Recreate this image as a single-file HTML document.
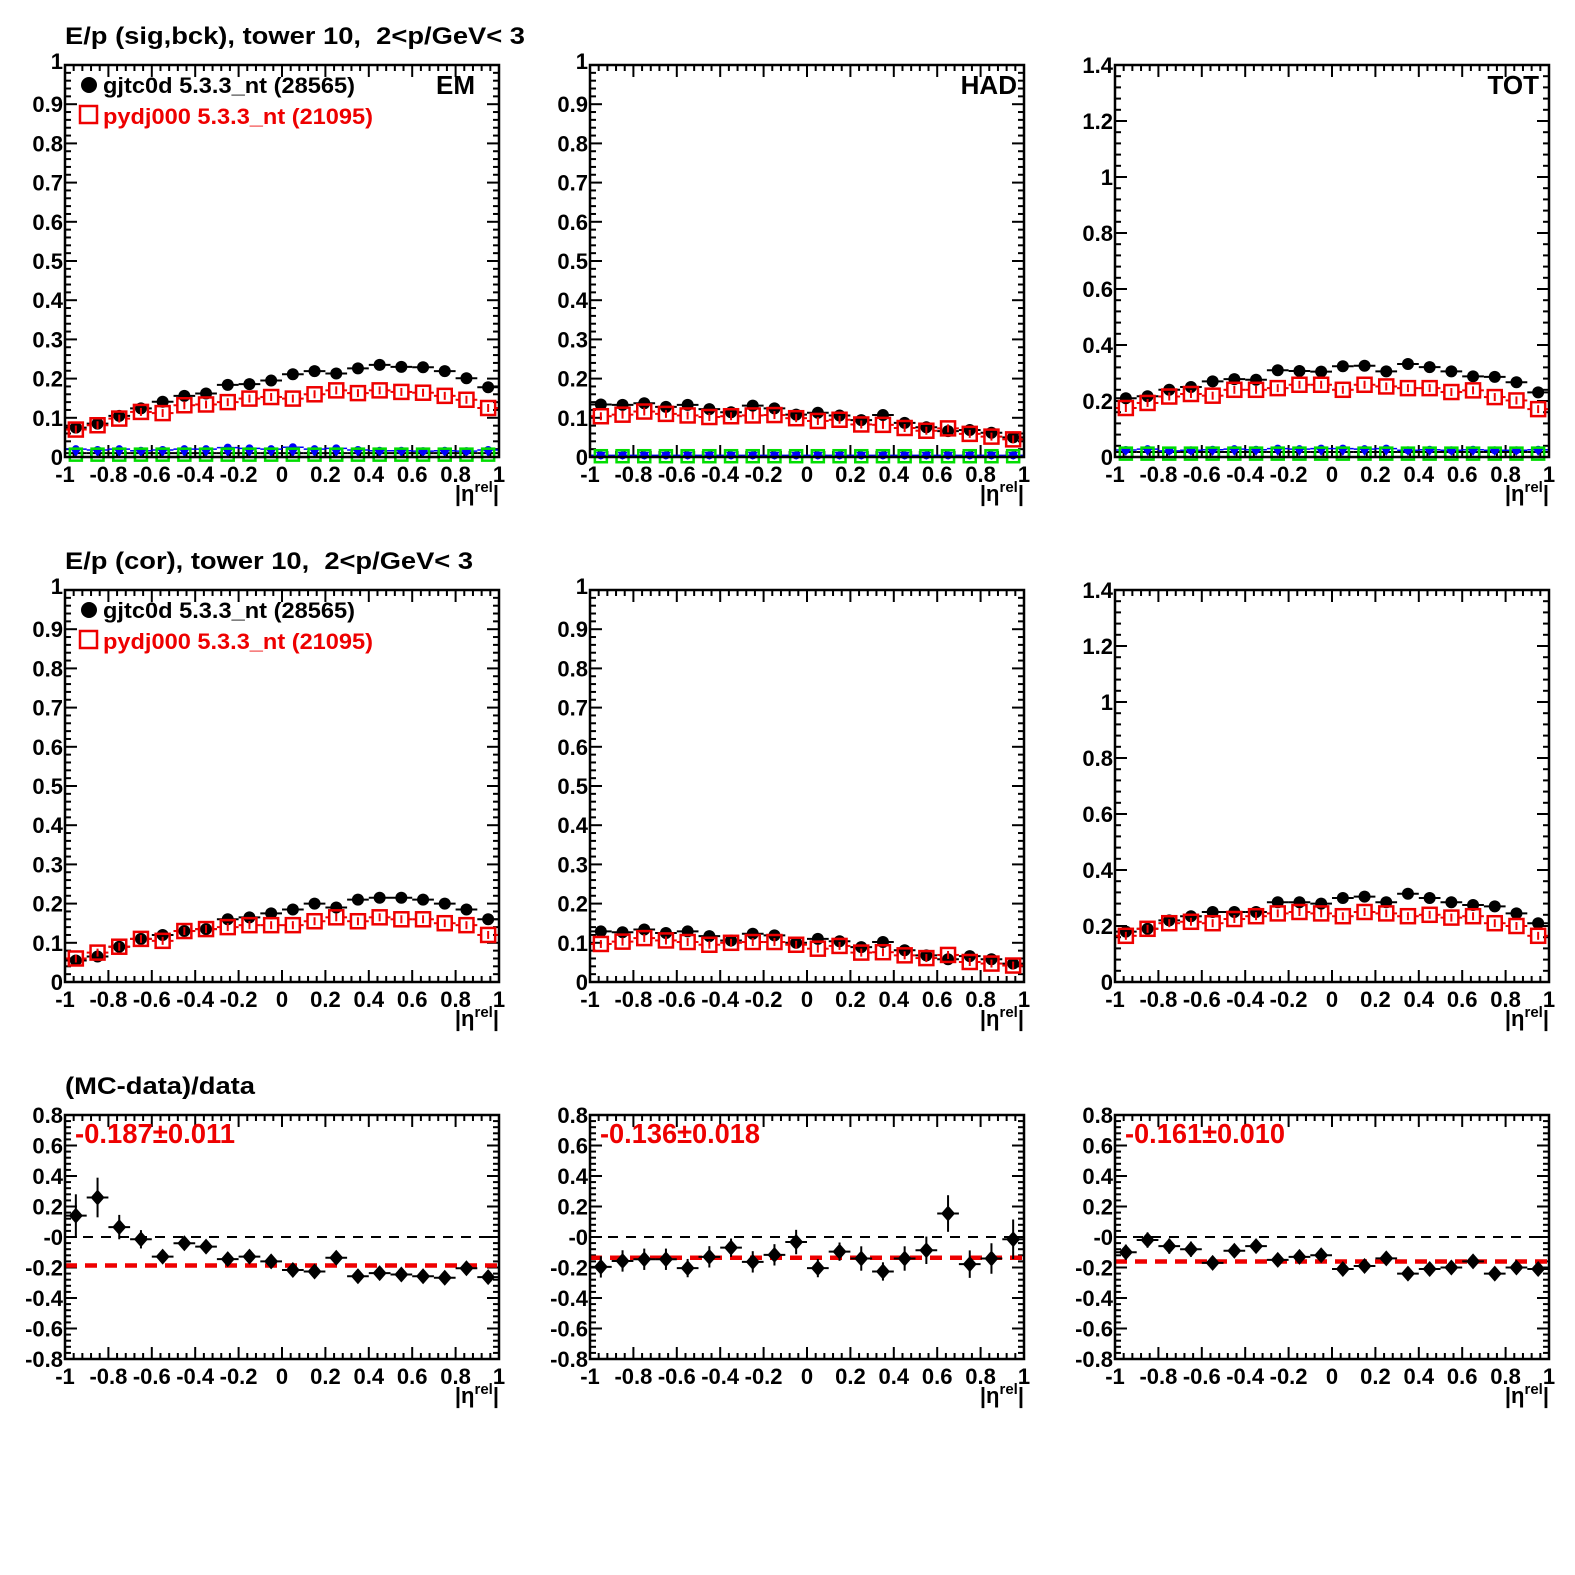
<!DOCTYPE html>
<html><head><meta charset="utf-8"><style>
html,body{margin:0;padding:0;background:#fff;}
svg{display:block;}
text{font-family:"Liberation Sans",Arial,sans-serif;font-weight:bold;}
.t{font-size:22px;}
.xl text{text-anchor:middle;}
.yl text{text-anchor:end;}
</style></head><body>
<svg width="1575" height="1575" viewBox="0 0 1575 1575">
<rect width="1575" height="1575" fill="#fff"/>
<g id="dyn"></g>

<text x="65" y="44" font-size="24" textLength="460" lengthAdjust="spacingAndGlyphs">E/p (sig,bck), tower 10,&#160; 2&lt;p/GeV&lt; 3</text>
<text x="65" y="569" font-size="24" textLength="408" lengthAdjust="spacingAndGlyphs">E/p (cor), tower 10,&#160; 2&lt;p/GeV&lt; 3</text>
<text x="65" y="1094" font-size="24" textLength="190" lengthAdjust="spacingAndGlyphs">(MC-data)/data</text>

<circle cx="89" cy="85" r="8" fill="#000"/>
<text x="103" y="93" font-size="22" textLength="252" lengthAdjust="spacingAndGlyphs">gjtc0d 5.3.3_nt (28565)</text>
<rect x="80" y="106" width="17" height="17" fill="none" stroke="#e00" stroke-width="2.5"/>
<text x="103" y="124" font-size="22" fill="#e00" textLength="270" lengthAdjust="spacingAndGlyphs">pydj000 5.3.3_nt (21095)</text>
<circle cx="89" cy="610" r="8" fill="#000"/>
<text x="103" y="618" font-size="22" textLength="252" lengthAdjust="spacingAndGlyphs">gjtc0d 5.3.3_nt (28565)</text>
<rect x="80" y="631" width="17" height="17" fill="none" stroke="#e00" stroke-width="2.5"/>
<text x="103" y="649" font-size="22" fill="#e00" textLength="270" lengthAdjust="spacingAndGlyphs">pydj000 5.3.3_nt (21095)</text>

<text x="475" y="94" font-size="26" text-anchor="end">EM</text>
<text x="1017" y="94" font-size="26" text-anchor="end">HAD</text>
<text x="1539" y="94" font-size="26" text-anchor="end">TOT</text>

<text x="75" y="1143" font-size="28" fill="#e00" textLength="160" lengthAdjust="spacingAndGlyphs">-0.187±0.011</text>
<text x="600" y="1143" font-size="28" fill="#e00" textLength="160" lengthAdjust="spacingAndGlyphs">-0.136±0.018</text>
<text x="1125" y="1143" font-size="28" fill="#e00" textLength="160" lengthAdjust="spacingAndGlyphs">-0.161±0.010</text>

<g class="xl t" transform="translate(65,482)"><text x="0">-1</text><text x="43.4">-0.8</text><text x="86.8">-0.6</text><text x="130.2">-0.4</text><text x="173.6">-0.2</text><text x="217">0</text><text x="260.4">0.2</text><text x="303.8">0.4</text><text x="347.2">0.6</text><text x="390.6">0.8</text><text x="434">1</text></g>
<g class="xl t" transform="translate(590,482)"><text x="0">-1</text><text x="43.4">-0.8</text><text x="86.8">-0.6</text><text x="130.2">-0.4</text><text x="173.6">-0.2</text><text x="217">0</text><text x="260.4">0.2</text><text x="303.8">0.4</text><text x="347.2">0.6</text><text x="390.6">0.8</text><text x="434">1</text></g>
<g class="xl t" transform="translate(1115,482)"><text x="0">-1</text><text x="43.4">-0.8</text><text x="86.8">-0.6</text><text x="130.2">-0.4</text><text x="173.6">-0.2</text><text x="217">0</text><text x="260.4">0.2</text><text x="303.8">0.4</text><text x="347.2">0.6</text><text x="390.6">0.8</text><text x="434">1</text></g>
<g class="xl t" transform="translate(65,1007)"><text x="0">-1</text><text x="43.4">-0.8</text><text x="86.8">-0.6</text><text x="130.2">-0.4</text><text x="173.6">-0.2</text><text x="217">0</text><text x="260.4">0.2</text><text x="303.8">0.4</text><text x="347.2">0.6</text><text x="390.6">0.8</text><text x="434">1</text></g>
<g class="xl t" transform="translate(590,1007)"><text x="0">-1</text><text x="43.4">-0.8</text><text x="86.8">-0.6</text><text x="130.2">-0.4</text><text x="173.6">-0.2</text><text x="217">0</text><text x="260.4">0.2</text><text x="303.8">0.4</text><text x="347.2">0.6</text><text x="390.6">0.8</text><text x="434">1</text></g>
<g class="xl t" transform="translate(1115,1007)"><text x="0">-1</text><text x="43.4">-0.8</text><text x="86.8">-0.6</text><text x="130.2">-0.4</text><text x="173.6">-0.2</text><text x="217">0</text><text x="260.4">0.2</text><text x="303.8">0.4</text><text x="347.2">0.6</text><text x="390.6">0.8</text><text x="434">1</text></g>
<g class="xl t" transform="translate(65,1384)"><text x="0">-1</text><text x="43.4">-0.8</text><text x="86.8">-0.6</text><text x="130.2">-0.4</text><text x="173.6">-0.2</text><text x="217">0</text><text x="260.4">0.2</text><text x="303.8">0.4</text><text x="347.2">0.6</text><text x="390.6">0.8</text><text x="434">1</text></g>
<g class="xl t" transform="translate(590,1384)"><text x="0">-1</text><text x="43.4">-0.8</text><text x="86.8">-0.6</text><text x="130.2">-0.4</text><text x="173.6">-0.2</text><text x="217">0</text><text x="260.4">0.2</text><text x="303.8">0.4</text><text x="347.2">0.6</text><text x="390.6">0.8</text><text x="434">1</text></g>
<g class="xl t" transform="translate(1115,1384)"><text x="0">-1</text><text x="43.4">-0.8</text><text x="86.8">-0.6</text><text x="130.2">-0.4</text><text x="173.6">-0.2</text><text x="217">0</text><text x="260.4">0.2</text><text x="303.8">0.4</text><text x="347.2">0.6</text><text x="390.6">0.8</text><text x="434">1</text></g>

<g font-size="22">
<text x="499" y="501" text-anchor="end">|η<tspan font-size="15" dy="-9">rel</tspan><tspan dy="9">|</tspan></text>
<text x="1024" y="501" text-anchor="end">|η<tspan font-size="15" dy="-9">rel</tspan><tspan dy="9">|</tspan></text>
<text x="1549" y="501" text-anchor="end">|η<tspan font-size="15" dy="-9">rel</tspan><tspan dy="9">|</tspan></text>
<text x="499" y="1026" text-anchor="end">|η<tspan font-size="15" dy="-9">rel</tspan><tspan dy="9">|</tspan></text>
<text x="1024" y="1026" text-anchor="end">|η<tspan font-size="15" dy="-9">rel</tspan><tspan dy="9">|</tspan></text>
<text x="1549" y="1026" text-anchor="end">|η<tspan font-size="15" dy="-9">rel</tspan><tspan dy="9">|</tspan></text>
<text x="499" y="1403" text-anchor="end">|η<tspan font-size="15" dy="-9">rel</tspan><tspan dy="9">|</tspan></text>
<text x="1024" y="1403" text-anchor="end">|η<tspan font-size="15" dy="-9">rel</tspan><tspan dy="9">|</tspan></text>
<text x="1549" y="1403" text-anchor="end">|η<tspan font-size="15" dy="-9">rel</tspan><tspan dy="9">|</tspan></text>
</g>

<g class="yl t" transform="translate(63,73)"><text y="392">0</text><text y="352.8">0.1</text><text y="313.6">0.2</text><text y="274.4">0.3</text><text y="235.2">0.4</text><text y="196">0.5</text><text y="156.8">0.6</text><text y="117.6">0.7</text><text y="78.4">0.8</text><text y="39.2">0.9</text><text y="-4">1</text></g>
<g class="yl t" transform="translate(588,73)"><text y="392">0</text><text y="352.8">0.1</text><text y="313.6">0.2</text><text y="274.4">0.3</text><text y="235.2">0.4</text><text y="196">0.5</text><text y="156.8">0.6</text><text y="117.6">0.7</text><text y="78.4">0.8</text><text y="39.2">0.9</text><text y="-4">1</text></g>
<g class="yl t" transform="translate(63,598)"><text y="392">0</text><text y="352.8">0.1</text><text y="313.6">0.2</text><text y="274.4">0.3</text><text y="235.2">0.4</text><text y="196">0.5</text><text y="156.8">0.6</text><text y="117.6">0.7</text><text y="78.4">0.8</text><text y="39.2">0.9</text><text y="-4">1</text></g>
<g class="yl t" transform="translate(588,598)"><text y="392">0</text><text y="352.8">0.1</text><text y="313.6">0.2</text><text y="274.4">0.3</text><text y="235.2">0.4</text><text y="196">0.5</text><text y="156.8">0.6</text><text y="117.6">0.7</text><text y="78.4">0.8</text><text y="39.2">0.9</text><text y="-4">1</text></g>
<g class="yl t" transform="translate(1113,73)"><text y="392">0</text><text y="336">0.2</text><text y="280">0.4</text><text y="224">0.6</text><text y="168">0.8</text><text y="112">1</text><text y="56">1.2</text><text y="0">1.4</text></g>
<g class="yl t" transform="translate(1113,598)"><text y="392">0</text><text y="336">0.2</text><text y="280">0.4</text><text y="224">0.6</text><text y="168">0.8</text><text y="112">1</text><text y="56">1.2</text><text y="0">1.4</text></g>
<g class="yl t" transform="translate(63,1123)"><text y="0">0.8</text><text y="30.5">0.6</text><text y="61">0.4</text><text y="91.5">0.2</text><text y="122">-0</text><text y="152.5">-0.2</text><text y="183">-0.4</text><text y="213.5">-0.6</text><text y="244">-0.8</text></g>
<g class="yl t" transform="translate(588,1123)"><text y="0">0.8</text><text y="30.5">0.6</text><text y="61">0.4</text><text y="91.5">0.2</text><text y="122">-0</text><text y="152.5">-0.2</text><text y="183">-0.4</text><text y="213.5">-0.6</text><text y="244">-0.8</text></g>
<g class="yl t" transform="translate(1113,1123)"><text y="0">0.8</text><text y="30.5">0.6</text><text y="61">0.4</text><text y="91.5">0.2</text><text y="122">-0</text><text y="152.5">-0.2</text><text y="183">-0.4</text><text y="213.5">-0.6</text><text y="244">-0.8</text></g>
</svg>
<script>
let s='';
const W=434,BW=W/20;
function L(x1,y1,x2,y2,c,w,d){s+=`<line x1="${x1}" y1="${y1}" x2="${x2}" y2="${y2}" stroke="${c}" stroke-width="${w}"${d?` stroke-dasharray="${d}"`:''}/>`;}
function axes(x0,y0,h,n,k){
 for(let i=0;i<=50;i++){let x=x0+i*W/50,len=i%5==0?12:6;L(x,y0+h,x,y0+h-len,'#000',2);L(x,y0,x,y0+len,'#000',2);}
 for(let i=0;i<=n;i++){let y=y0+h-i*h/n,len=i%k==0?12:6;L(x0,y,x0+len,y,'#000',2);L(x0+W,y,x0+W-len,y,'#000',2);}
}
function frame(x0,y0,h){s+=`<rect x="${x0}" y="${y0}" width="${W}" height="${h}" fill="none" stroke="#000" stroke-width="2.5"/>`;}
function mk(x0,y0,h,ymin,ymax){return {X:i=>x0+(i+0.5)*BW,Y:v=>y0+h-(v-ymin)/(ymax-ymin)*h,x0:x0};}
function black(P,vals){vals.forEach((v,i)=>{let x=P.X(i),y=P.Y(v);L(x-BW/2,y,x+BW/2,y,'#000',2);L(x,y-3,x,y+3,'#000',2);s+=`<circle cx="${x}" cy="${y}" r="6" fill="#000"/>`;});}
function red(P,vals){vals.forEach((v,i)=>{let x=P.X(i),y=P.Y(v);L(x-BW/2,y,x-7,y,'#e00',2);L(x+7,y,x+BW/2,y,'#e00',2);L(x,y-4,x,y+4,'#e00',2);s+=`<rect x="${x-7}" y="${y-7}" width="14" height="14" fill="none" stroke="#e00" stroke-width="2.5"/>`;});}
function bkg(P,b,t,g){for(let i=0;i<20;i++){let x=P.X(i);
 let yb=P.Y(b[i%b.length]),yt=P.Y(t),yg=P.Y(g);
 L(x-BW/2,yt,x+BW/2,yt,'#000',2);L(x-BW/2,yb,x+BW/2,yb,'#00f',1.5);
 s+=`<circle cx="${x}" cy="${yb}" r="4" fill="#00f"/>`;
 s+=`<polygon points="${x-5},${yt-4} ${x+5},${yt-4} ${x},${yt+4}" fill="#00f"/>`;
 s+=`<rect x="${x-6}" y="${yg-6}" width="12" height="12" fill="none" stroke="#0d0" stroke-width="2.5"/>`;}}
function ratio(P,vals,errs,fit){
 L(P.x0,P.Y(0),P.x0+W,P.Y(0),'#000',2,'10 8');
 L(P.x0,P.Y(fit),P.x0+W,P.Y(fit),'#e00',4.5,'12 8');
 vals.forEach((v,i)=>{let x=P.X(i),y=P.Y(v);
  let ep=errs[i]/1.6*244;
  L(x-BW/2,y,x+BW/2,y,'#000',2);L(x,y-ep,x,y+ep,'#000',2);
  s+=`<polygon points="${x},${y-8} ${x+7},${y} ${x},${y+8} ${x-7},${y}" fill="#000"/>`;});}

let P;
P=mk(65,65,392,0,1);axes(65,65,392,50,5);
bkg(P,[0.02,0.018,0.02,0.016,0.018,0.02,0.02,0.024,0.022,0.02,0.025,0.02,0.022,0.018,0.016,0.016,0.015,0.016,0.015,0.018],0.01,0.006);
black(P,[0.075,0.085,0.105,0.124,0.141,0.156,0.162,0.184,0.186,0.195,0.211,0.219,0.213,0.226,0.235,0.23,0.229,0.219,0.201,0.178]);
red(P,[0.07,0.081,0.098,0.115,0.112,0.132,0.134,0.14,0.149,0.153,0.149,0.16,0.17,0.163,0.17,0.166,0.164,0.156,0.146,0.125]);
frame(65,65,392);
P=mk(590,65,392,0,1);axes(590,65,392,50,5);
bkg(P,[0.004],0.003,0.002);
black(P,[0.134,0.133,0.137,0.128,0.133,0.122,0.114,0.131,0.124,0.108,0.113,0.106,0.094,0.107,0.087,0.076,0.066,0.069,0.062,0.05]);
red(P,[0.104,0.108,0.116,0.11,0.106,0.102,0.104,0.106,0.107,0.099,0.092,0.095,0.083,0.082,0.074,0.067,0.073,0.059,0.052,0.045]);
frame(590,65,392);
P=mk(1115,65,392,0,1.4);axes(1115,65,392,35,5);
bkg(P,[0.025,0.028,0.022,0.024,0.026,0.028,0.026,0.03,0.028,0.03,0.03,0.028,0.03,0.024,0.026,0.024,0.026,0.024,0.024,0.026],0.018,0.012);
black(P,[0.21,0.217,0.24,0.25,0.27,0.278,0.276,0.31,0.307,0.305,0.324,0.326,0.306,0.332,0.321,0.306,0.288,0.286,0.267,0.231]);
red(P,[0.175,0.193,0.216,0.225,0.219,0.24,0.24,0.246,0.258,0.258,0.24,0.258,0.252,0.246,0.246,0.232,0.238,0.214,0.202,0.171]);
frame(1115,65,392);
P=mk(65,590,392,0,1);axes(65,590,392,50,5);
black(P,[0.055,0.065,0.09,0.11,0.12,0.13,0.135,0.16,0.165,0.175,0.185,0.2,0.19,0.21,0.215,0.215,0.21,0.2,0.185,0.16]);
red(P,[0.06,0.075,0.09,0.11,0.105,0.13,0.135,0.14,0.145,0.145,0.145,0.155,0.165,0.155,0.165,0.16,0.16,0.15,0.145,0.12]);
frame(65,590,392);
P=mk(590,590,392,0,1);axes(590,590,392,50,5);
black(P,[0.129,0.127,0.134,0.125,0.129,0.117,0.106,0.123,0.119,0.1,0.11,0.104,0.089,0.102,0.081,0.068,0.058,0.066,0.058,0.047]);
red(P,[0.097,0.103,0.112,0.106,0.102,0.095,0.1,0.102,0.102,0.095,0.085,0.092,0.075,0.076,0.068,0.061,0.069,0.051,0.047,0.042]);
frame(590,590,392);
P=mk(1115,590,392,0,1.4);axes(1115,590,392,35,5);
black(P,[0.18,0.19,0.22,0.235,0.25,0.25,0.25,0.285,0.285,0.28,0.3,0.305,0.285,0.315,0.3,0.285,0.275,0.27,0.245,0.21]);
red(P,[0.165,0.19,0.21,0.215,0.21,0.225,0.235,0.245,0.25,0.245,0.235,0.25,0.245,0.235,0.24,0.23,0.235,0.21,0.2,0.165]);
frame(1115,590,392);
P=mk(65,1115,244,-0.8,0.8);axes(65,1115,244,40,5);
ratio(P,[0.14,0.259,0.065,-0.015,-0.129,-0.041,-0.063,-0.145,-0.129,-0.16,-0.216,-0.226,-0.136,-0.257,-0.237,-0.246,-0.257,-0.267,-0.205,-0.263],
[0.14,0.13,0.08,0.06,0.04,0.04,0.04,0.03,0.03,0.03,0.03,0.02,0.02,0.02,0.02,0.02,0.02,0.02,0.02,0.03],-0.187);
frame(65,1115,244);
P=mk(590,1115,244,-0.8,0.8);axes(590,1115,244,40,5);
ratio(P,[-0.196,-0.157,-0.146,-0.146,-0.204,-0.13,-0.07,-0.163,-0.117,-0.033,-0.204,-0.096,-0.141,-0.226,-0.141,-0.087,0.154,-0.178,-0.141,-0.015],
[0.07,0.07,0.07,0.07,0.06,0.07,0.06,0.07,0.07,0.08,0.06,0.06,0.08,0.06,0.08,0.09,0.12,0.09,0.1,0.13],-0.136);
frame(590,1115,244);
P=mk(1115,1115,244,-0.8,0.8);axes(1115,1115,244,40,5);
ratio(P,[-0.1,-0.02,-0.06,-0.08,-0.17,-0.09,-0.06,-0.15,-0.13,-0.12,-0.21,-0.19,-0.14,-0.24,-0.21,-0.2,-0.16,-0.24,-0.2,-0.21],
[0.05,0.05,0.05,0.05,0.04,0.04,0.04,0.04,0.04,0.04,0.03,0.03,0.03,0.03,0.03,0.03,0.03,0.03,0.03,0.03],-0.161);
frame(1115,1115,244);
document.getElementById('dyn').innerHTML=s;
</script>
</body></html>
